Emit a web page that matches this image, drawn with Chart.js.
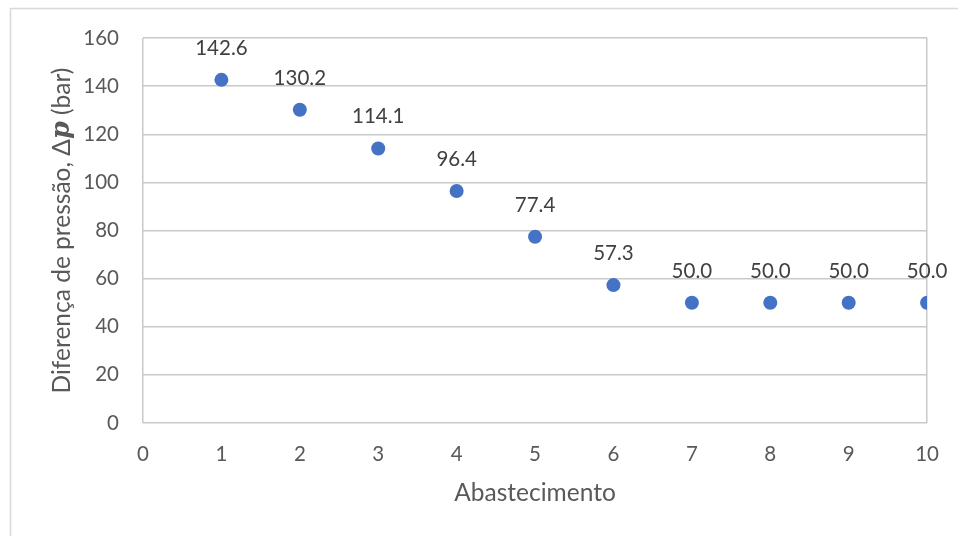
<!DOCTYPE html>
<html>
<head>
<meta charset="utf-8">
<script src="https://cdn.jsdelivr.net/npm/chart.js@4.4.1/dist/chart.umd.min.js"></script>
<style>
  html, body { margin: 0; padding: 0; background: #ffffff; }
  #wrap { position: relative; width: 958px; height: 536px; }
</style>
</head>
<body>
<div id="wrap"><canvas id="c" width="958" height="536"></canvas></div>
<script>
// Refuelling number vs. pressure difference (bar)
const abastecimento = [1, 2, 3, 4, 5, 6, 7, 8, 9, 10];
const deltaP = [142.6, 130.2, 114.1, 96.4, 77.4, 57.3, 50.0, 50.0, 50.0, 50.0];
const xTicks = [0, 1, 2, 3, 4, 5, 6, 7, 8, 9, 10];
const yTicks = [0, 20, 40, 60, 80, 100, 120, 140, 160];

const FONT = 'Lato, "Open Sans", "DejaVu Sans", sans-serif';
const GRID = '#c9c9c9';
const TICK_COLOR = '#595959';
const LABEL_COLOR = '#404040';
const TICK_SIZE = 20.5;
const TITLE_SIZE = 24.5;

const points = abastecimento.map((x, i) => ({ x: x, y: deltaP[i] }));

// Outer frame of the chart area
const framePlugin = {
  id: 'frame',
  beforeDraw(chart) {
    const ctx = chart.ctx;
    ctx.save();
    ctx.strokeStyle = '#d9d9d9';
    ctx.lineWidth = 1.5;
    ctx.beginPath();
    ctx.moveTo(10.5, chart.height + 5);
    ctx.lineTo(10.5, 8.5);
    ctx.lineTo(chart.width + 5, 8.5);
    ctx.stroke();
    ctx.restore();
  }
};

// Value labels above each point
const valueLabels = {
  id: 'valueLabels',
  afterDatasetsDraw(chart) {
    const ctx = chart.ctx;
    const meta = chart.getDatasetMeta(0);
    ctx.save();
    ctx.font = TICK_SIZE + 'px ' + FONT;
    ctx.fillStyle = LABEL_COLOR;
    ctx.textAlign = 'center';
    ctx.textBaseline = 'alphabetic';
    meta.data.forEach((el, i) => {
      ctx.fillText(deltaP[i].toFixed(1), el.x, el.y - 25);
    });
    ctx.restore();
  }
};

// Y-axis title with an italic bold "p"
const yTitle = {
  id: 'yTitle',
  afterDraw(chart) {
    const ctx = chart.ctx;
    const area = chart.chartArea;
    const parts = [
      { t: 'Diferença de pressão, Δ', f: TITLE_SIZE + 'px ' + FONT },
      { t: 'p', f: 'italic bold ' + (TITLE_SIZE + 1) + 'px "DejaVu Serif", "Liberation Serif", serif' },
      { t: ' (bar)', f: TITLE_SIZE + 'px ' + FONT }
    ];
    ctx.save();
    let total = 0;
    parts.forEach(p => { ctx.font = p.f; p.w = ctx.measureText(p.t).width; total += p.w; });
    const cx = 62;
    const cy = (area.top + area.bottom) / 2;
    ctx.translate(cx, cy);
    ctx.rotate(-Math.PI / 2);
    ctx.fillStyle = TICK_COLOR;
    ctx.textBaseline = 'middle';
    ctx.textAlign = 'left';
    let x = -total / 2;
    parts.forEach(p => { ctx.font = p.f; ctx.fillText(p.t, x, 0); x += p.w; });
    ctx.restore();
  }
};

new Chart(document.getElementById('c'), {
  type: 'scatter',
  data: {
    datasets: [{
      data: points,
      backgroundColor: '#4472C4',
      borderColor: '#4472C4',
      pointRadius: 7,
      pointHoverRadius: 7,
      borderWidth: 0
    }]
  },
  options: {
    responsive: false,
    animation: false,
    events: [],
    layout: { padding: { left: 0, top: 38, right: 30, bottom: 0 } },
    plugins: {
      legend: { display: false },
      tooltip: { enabled: false }
    },
    scales: {
      x: {
        type: 'linear',
        min: 0,
        max: 10,
        afterBuildTicks(scale) { scale.ticks = xTicks.map(v => ({ value: v })); },
        afterFit(scale) { scale.height = 113; },
        border: { display: false },
        grid: {
          drawTicks: false,
          lineWidth: 1.5,
          color: (c) => (c.tick && (c.tick.value === 0 || c.tick.value === 10)) ? GRID : 'rgba(0,0,0,0)'
        },
        ticks: {
          padding: 19,
          color: TICK_COLOR,
          font: { family: FONT, size: TICK_SIZE }
        },
        title: {
          display: true,
          text: 'Abastecimento',
          color: TICK_COLOR,
          font: { family: FONT, size: TITLE_SIZE },
          padding: { top: 0, bottom: 28 }
        }
      },
      y: {
        type: 'linear',
        min: 0,
        max: 160,
        afterBuildTicks(scale) { scale.ticks = yTicks.map(v => ({ value: v })); },
        afterFit(scale) { scale.width = 143; },
        border: { display: false },
        grid: { drawTicks: false, lineWidth: 1.5, color: GRID },
        ticks: {
          padding: 24,
          color: TICK_COLOR,
          font: { family: FONT, size: TICK_SIZE }
        }
      }
    }
  },
  plugins: [framePlugin, valueLabels, yTitle]
});
</script>
</body>
</html>
